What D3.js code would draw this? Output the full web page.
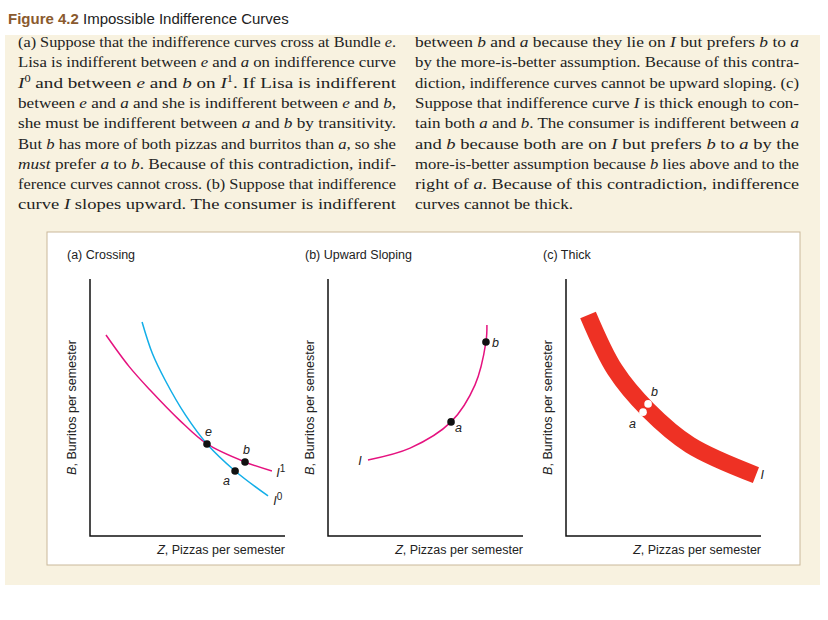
<!DOCTYPE html>
<html><head><meta charset="utf-8">
<script src="https://cdn.jsdelivr.net/npm/d3@7"></script>
<style>body{margin:0;background:#fff}</style>
</head><body>
<svg id="fig" width="828" height="620"></svg>
<script>
// curve points in axis units (0..10 on both axes, per panel)
var crossI1 = [[0.82,7.82],[2.0,6.6],[3.08,5.68],[4.6,4.5],[6.0,3.58],[7.95,2.88],[9.33,2.53]];
var crossI0 = [[2.67,8.33],[3.2,7.1],[3.85,6.07],[4.9,4.7],[6.0,3.58],[7.44,2.53],[9.13,1.56]];
var crossPts = [{n:"e",x:6.0,y:3.58,dx:-2,dy:-8},{n:"a",x:7.44,y:2.53,dx:-12,dy:14},{n:"b",x:7.95,y:2.88,dx:-2,dy:-8}];
var upI = [[2.05,2.96],[4.21,3.42],[6.31,4.44],[7.54,5.88],[8.10,7.55],[8.15,8.21]];
var upPts = [{n:"a",x:6.31,y:4.44,dx:4,dy:10},{n:"b",x:8.10,y:7.55,dx:6,dy:5}];
var thickI = [[1.13,8.6],[2.51,6.46],[4.21,4.90],[6.36,3.54],[9.74,2.37]];
var thickPts = [{n:"a",x:3.95,y:4.82,dx:-14,dy:16},{n:"b",x:4.21,y:5.14,dx:3,dy:-8}];
var panelTitles = ["(a) Crossing","(b) Upward Sloping","(c) Thick"];

var leftLines = [
 "(a) Suppose that the indifference curves cross at Bundle *e*.",
 "Lisa is indifferent between *e* and *a* on indifference curve",
 "*I*^0 and between *e* and *b* on *I*^1. If Lisa is indifferent",
 "between *e* and *a* and she is indifferent between *e* and *b*,",
 "she must be indifferent between *a* and *b* by transitivity.",
 "But *b* has more of both pizzas and burritos than *a*, so she",
 "*must* prefer *a* to *b*. Because of this contradiction, indif-",
 "ference curves cannot cross. (b) Suppose that indifference",
 "curve *I* slopes upward. The consumer is indifferent"];
var rightLines = [
 "between *b* and *a* because they lie on *I* but prefers *b* to *a*",
 "by the more-is-better assumption. Because of this contra-",
 "diction, indifference curves cannot be upward sloping. (c)",
 "Suppose that indifference curve *I* is thick enough to con-",
 "tain both *a* and *b*. The consumer is indifferent between *a*",
 "and *b* because both are on *I* but prefers *b* to *a* by the",
 "more-is-better assumption because *b* lies above and to the",
 "right of *a*. Because of this contradiction, indifference",
 "curves cannot be thick."];

var svg = d3.select("#fig");
var sans = "Liberation Sans, Arial, sans-serif";

svg.append("text").attr("x",8).attr("y",24).attr("font-family",sans).attr("font-size",15)
  .call(function(t){
    t.append("tspan").attr("fill","#8a5a2e").attr("font-weight","bold").text("Figure 4.2");
    t.append("tspan").attr("fill","#222").text(" Impossible Indifference Curves");
  });
svg.append("rect").attr("x",5).attr("y",35).attr("width",815).attr("height",550).attr("fill","#f8f2e0");
svg.append("rect").attr("x",47).attr("y",232).attr("width",753).attr("height",333)
  .attr("fill","#fff").attr("stroke","#c9b89a");

function writeLines(lines, x0, x1, lastWidth) {
  lines.forEach(function(l, i) {
    var t = svg.append("text").attr("x",x0).attr("y",47+i*20.3)
      .attr("font-family","Liberation Serif, serif").attr("font-size",15.5).attr("fill","#222")
      .attr("lengthAdjust","spacingAndGlyphs");
    t.attr("textLength", i < lines.length-1 ? x1-x0 : (lastWidth || x1-x0));
    var shift = 0;
    l.split(/(\*[^*]+\*(?:\^\d)?)/).forEach(function(seg){
      if (!seg) return;
      var m = seg.match(/^\*([^*]+)\*(?:\^(\d))?$/);
      var s;
      if (m) s = t.append("tspan").attr("font-style","italic").text(m[1]);
      else s = t.append("tspan").text(seg);
      if (shift) { s.attr("dy",shift); shift = 0; }
      if (m && m[2]) { t.append("tspan").attr("dy",-6).attr("font-size",10).text(m[2]); shift = 6; }
    });
  });
}
writeLines(leftLines, 18, 396);
writeLines(rightLines, 415, 799, 158);

var origins = [90, 328, 566];
function panel(i) {
  var ox = origins[i];
  var x = d3.scaleLinear().domain([0,10]).range([ox, ox+195]);
  var y = d3.scaleLinear().domain([0,10]).range([536, 279]);
  var g = svg.append("g");
  g.append("path").attr("d","M"+x(0)+","+y(10)+"V"+y(0)+"H"+x(10)).attr("fill","none").attr("stroke","#111").attr("stroke-width",1.5);
  g.append("text").attr("x",ox-23).attr("y",259).attr("font-family",sans).attr("font-size",12.5).attr("fill","#222").text(panelTitles[i]);
  g.append("text").attr("transform","translate("+(ox-14)+","+y(5)+") rotate(-90)").attr("text-anchor","middle")
    .attr("font-family",sans).attr("font-size",12.5).attr("fill","#222")
    .call(function(t){t.append("tspan").attr("font-style","italic").text("B");t.append("tspan").text(", Burritos per semester");});
  g.append("text").attr("x",x(10)).attr("y",554).attr("text-anchor","end")
    .attr("font-family",sans).attr("font-size",12.5).attr("fill","#222")
    .call(function(t){t.append("tspan").attr("font-style","italic").text("Z");t.append("tspan").text(", Pizzas per semester");});
  var line = d3.line().x(function(d){return x(d[0]);}).y(function(d){return y(d[1]);}).curve(d3.curveCatmullRom);
  return {g:g,x:x,y:y,line:line};
}
function dots(p, pts, fill) {
  pts.forEach(function(d){
    p.g.append("circle").attr("cx",p.x(d.x)).attr("cy",p.y(d.y)).attr("r",3.8).attr("fill",fill);
    p.g.append("text").attr("x",p.x(d.x)+d.dx).attr("y",p.y(d.y)+d.dy).attr("font-family",sans)
      .attr("font-size",12.5).attr("font-style","italic").attr("fill","#222").text(d.n);
  });
}
function curveLabel(p, x, y, name, sup) {
  var t = p.g.append("text").attr("x",x).attr("y",y).attr("font-family",sans).attr("font-size",12.5).attr("fill","#222");
  t.append("tspan").attr("font-style","italic").text(name);
  if (sup) t.append("tspan").attr("dy",-5).attr("font-size",10).text(sup);
}

var pa = panel(0);
pa.g.append("path").attr("d",pa.line(crossI1)).attr("fill","none").attr("stroke","#e5127f").attr("stroke-width",1.5);
pa.g.append("path").attr("d",pa.line(crossI0)).attr("fill","none").attr("stroke","#12aee8").attr("stroke-width",1.5);
dots(pa, crossPts, "#111");
curveLabel(pa, pa.x(9.55), pa.y(2.3), "I", "1");
curveLabel(pa, pa.x(9.4), pa.y(1.2), "I", "0");

var pb = panel(1);
pb.g.append("path").attr("d",pb.line(upI)).attr("fill","none").attr("stroke","#e5127f").attr("stroke-width",1.5);
dots(pb, upPts, "#111");
curveLabel(pb, pb.x(1.55), pb.y(2.75), "I");

var pc = panel(2);
pc.g.append("path").attr("d",pc.line(thickI)).attr("fill","none").attr("stroke","#ee3124").attr("stroke-width",17);
dots(pc, thickPts, "#fff");
curveLabel(pc, pc.x(9.98), pc.y(2.2), "I");
</script>
</body></html>
